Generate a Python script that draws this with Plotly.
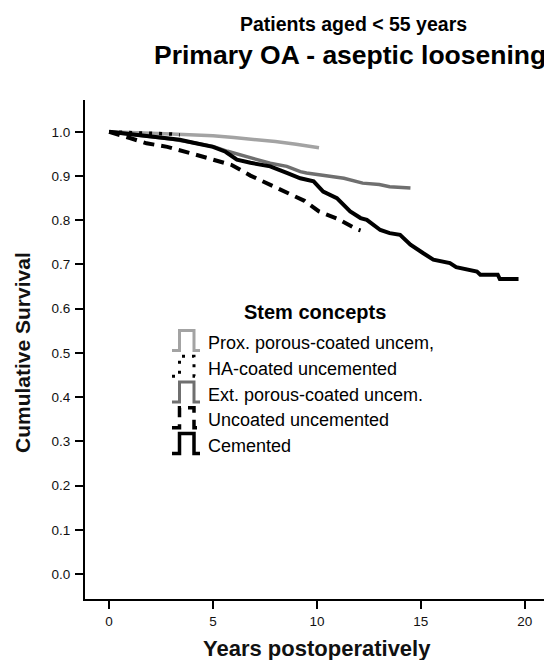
import plotly.graph_objects as go

# ---------------- data ----------------
prox_t = [0, 1, 2, 3, 4, 5, 6, 7, 8, 9, 10.1]
prox_s = [1.0, 0.999, 0.997, 0.995, 0.993, 0.991, 0.987, 0.983, 0.978, 0.972, 0.964]

ha_t = [0, 0.8, 1.5, 2.2, 3.0, 3.4]
ha_s = [1.0, 0.999, 0.998, 0.996, 0.995, 0.993]

ext_t = [0, 1, 2, 3, 4, 5, 5.7, 6.5, 7.75, 8.55, 9.2, 9.5, 10.2, 11.3, 12.2, 13.0, 13.5, 14.5]
ext_s = [1.0, 0.995, 0.99, 0.984, 0.976, 0.967, 0.956, 0.945, 0.929, 0.922, 0.91, 0.907,
         0.903, 0.895, 0.884, 0.881, 0.876, 0.873]

unc_t = [0, 0.5, 1, 1.8, 2.8, 3.9, 5.0, 5.9, 6.8, 7.6, 8.45, 9.4, 10.1, 11.0, 11.9, 12.1]
unc_s = [1.0, 0.994, 0.986, 0.974, 0.966, 0.952, 0.937, 0.925, 0.901, 0.883, 0.863, 0.844,
         0.82, 0.803, 0.78, 0.777]

cem_t = [0, 1, 2, 3, 3.4, 4, 5, 5.6, 6.15, 6.8, 7.75, 8.55, 9.2, 9.84, 10.3, 10.96, 11.6,
         12.1, 12.4, 13.05, 13.5, 14.0, 14.5, 15.1, 15.6, 16.4, 16.7, 17.7, 17.86, 18.7,
         18.8, 19.7]
cem_s = [1.0, 0.995, 0.99, 0.985, 0.982, 0.976, 0.966, 0.955, 0.937, 0.93, 0.922, 0.907,
         0.895, 0.888, 0.865, 0.85, 0.82, 0.805, 0.801, 0.778, 0.771, 0.767, 0.745, 0.726,
         0.711, 0.703, 0.694, 0.684, 0.677, 0.677, 0.667, 0.667]

x_ticks = [0, 5, 10, 15, 20]
y_ticks = [0.0, 0.1, 0.2, 0.3, 0.4, 0.5, 0.6, 0.7, 0.8, 0.9, 1.0]
y_tick_labels = ["0.0", "0.1", "0.2", "0.3", "0.4", "0.5", "0.6", "0.7", "0.8", "0.9", "1.0"]

legend_title = "Stem concepts"
legend_names = ["Prox. porous-coated uncem,", "HA-coated uncemented",
                "Ext. porous-coated uncem.", "Uncoated uncemented", "Cemented"]

# ---------------- styles ----------------
FONT = "Liberation Sans, Arial, Helvetica, sans-serif"
C_PROX = "#a3a3a3"
C_EXT = "#6f6f6f"
C_BLK = "#000000"

styles = [
    dict(color=C_PROX, width=3.5, dash="solid"),
    dict(color=C_BLK, width=3.5, dash="3px,7px"),
    dict(color=C_EXT, width=3.5, dash="solid"),
    dict(color=C_BLK, width=4, dash="11px,7px"),
    dict(color=C_BLK, width=4, dash="solid"),
]

OFF = 8                      # page body margin in the browser
W, H = 552 - OFF, 660 - OFF  # figure size
# plot area in screenshot pixels: x 85..547, y 100..599
SL, SR, ST, SB = 85, 547, 100, 599
L, T = SL - OFF, ST - OFF
R = W - (SR - OFF)
B = H - (SB - OFF)
PW, PH = SR - SL, SB - ST


def px(xs):
    return (xs - SL) / PW


def py(ys):
    return (SB - ys) / PH


fig = go.Figure()
series = [(prox_t, prox_s, 0), (ext_t, ext_s, 2), (unc_t, unc_s, 3),
          (cem_t, cem_s, 4), (ha_t, ha_s, 1)]
for t, s, k in series:
    fig.add_trace(go.Scatter(x=t, y=s, mode="lines", name=legend_names[k],
                             line=styles[k], showlegend=False, hoverinfo="skip"))

annotations = []
shapes = []

# titles
annotations.append(dict(text="<b>Patients aged &lt; 55 years</b>", x=px(353.5), y=py(24),
                        xref="paper", yref="paper", showarrow=False, xanchor="center",
                        yanchor="middle", font=dict(family=FONT, size=19.5, color="#000")))
annotations.append(dict(text="<b>Primary OA - aseptic loosening</b>", x=px(349.5), y=py(55),
                        xref="paper", yref="paper", showarrow=False, xanchor="center",
                        yanchor="middle", font=dict(family=FONT, size=26.5, color="#000")))
# axis titles
annotations.append(dict(text="<b>Years postoperatively</b>", x=px(316.5), y=py(648),
                        xref="paper", yref="paper", showarrow=False, xanchor="center",
                        yanchor="middle", font=dict(family=FONT, size=22, color="#111")))
annotations.append(dict(text="<b>Cumulative Survival</b>", x=px(22), y=py(353),
                        xref="paper", yref="paper", showarrow=False, xanchor="center",
                        yanchor="middle", textangle=-90,
                        font=dict(family=FONT, size=21, color="#111")))

# custom legend
annotations.append(dict(text="<b>" + legend_title + "</b>", x=px(242), y=py(312),
                        xref="paper", yref="paper", showarrow=False, xanchor="left",
                        yanchor="middle", font=dict(family=FONT, size=20, color="#000")))
centers = [342, 367.75, 393.5, 419.25, 445]
for k, c in enumerate(centers):
    annotations.append(dict(text=legend_names[k], x=px(206), y=py(c + 1),
                            xref="paper", yref="paper", showarrow=False, xanchor="left",
                            yanchor="middle", font=dict(family=FONT, size=18, color="#000")))
    pts = [(172, c + 8.5), (179.5, c + 8.5), (179.5, c - 11.5), (194, c - 11.5),
           (194, c + 8.5), (200, c + 8.5)]
    path = "M " + " L ".join(f"{px(a):.5f},{py(b):.5f}" for a, b in pts)
    st = styles[k]
    shapes.append(dict(type="path", path=path, xref="paper", yref="paper",
                       line=dict(color=st["color"], width=st["width"] - 0.5, dash=st["dash"])))

fig.update_layout(
    width=W, height=H, autosize=False,
    margin=dict(l=L, r=R, t=T, b=B, pad=0),
    paper_bgcolor="white", plot_bgcolor="white",
    showlegend=False,
    annotations=annotations, shapes=shapes,
    font=dict(family=FONT, color="#111"),
)
fig.update_xaxes(range=[-1.16, 21.07], tickvals=x_ticks, ticktext=[str(v) for v in x_ticks],
                 showgrid=False, zeroline=False, showline=True, linecolor="#000", linewidth=2,
                 ticks="outside", ticklen=8, tickwidth=2, tickcolor="#000",
                 tickfont=dict(family=FONT, size=13.5, color="#111"), ticklabelstandoff=1)
fig.update_yaxes(range=[-0.0565, 1.072], tickvals=y_ticks, ticktext=y_tick_labels,
                 showgrid=False, zeroline=False, showline=True, linecolor="#000", linewidth=2,
                 ticks="outside", ticklen=8, tickwidth=2, tickcolor="#000",
                 tickfont=dict(family=FONT, size=13.5, color="#111"), ticklabelstandoff=2)

fig.write_html("out.html")
